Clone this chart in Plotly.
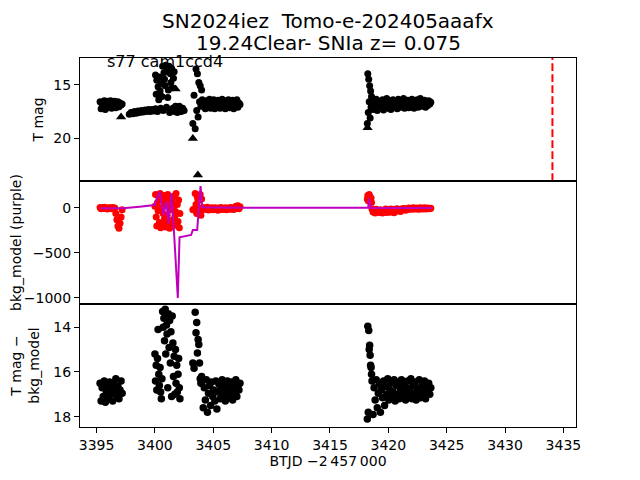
import plotly.graph_objects as go
from plotly.subplots import make_subplots

BLACK = "#000000"
RED = "#ff0000"
PURPLE = "#bf00bf"
FONT = "DejaVu Sans"

# segment A (shared by all three panels)
t_a = [3395.30, 3395.39, 3395.48, 3395.57, 3395.66, 3395.75, 3395.84, 3395.93,
       3396.02, 3396.11, 3396.20, 3396.29, 3396.38, 3396.47, 3396.56, 3396.65,
       3396.74, 3396.83, 3396.92, 3397.01, 3397.10, 3397.19]
mag_a = [16.6, 17.25, 16.85, 17.0, 16.5, 17.3, 16.75, 16.55, 17.1, 16.9, 16.5,
         17.2, 16.7, 17.0, 16.55, 17.15, 16.8, 16.6, 17.05, 16.7, 16.9, 16.8]
bkg_a = [5, -8, 2, -5, 8, -3, 0, -10, 4, -6, 3, -8, 6, -4, 0, -60, -130, -200,
         -225, -170, -100, -20]
sub_a = [16.5, 17.3, 16.7, 17.1, 16.4, 17.35, 16.9, 16.6, 17.2, 16.45, 17.0,
         16.75, 17.3, 16.5, 16.9, 16.3, 17.1, 16.65, 17.2, 16.8, 16.4, 16.95]

# segment B
t_b = [3400.00, 3400.05, 3400.11, 3400.16, 3400.22, 3400.27, 3400.33, 3400.38,
       3400.44, 3400.49, 3400.55, 3400.60, 3400.66, 3400.71, 3400.77, 3400.82,
       3400.88, 3400.93, 3400.99, 3401.04, 3401.10, 3401.15, 3401.21, 3401.26,
       3401.32, 3401.37, 3401.43, 3401.48, 3401.54, 3401.59, 3401.65, 3401.70,
       3401.76, 3401.81, 3401.87, 3401.92, 3401.98, 3402.03, 3402.09, 3402.14]
mag_b = [17.3, 14.1, 15.9, 14.6, 17.5, 15.2, 16.4, 14.3, 15.6, 17.2,
         14.9, 16.1, 13.3, 17.4, 13.9, 14.5, 15.1, 13.2, 17.1, 13.7,
         16.2, 15.5, 13.3, 17.6, 14.0, 14.8, 13.5, 15.3, 17.2, 14.4,
         13.8, 17.5, 17.0, 17.4, 17.1, 17.6, 17.2, 17.5, 17.0, 17.4]
bkg_b = [20, 150, -100, -200, 60, -30, 120, -160, 160, -220,
         0, 90, -180, -60, 140, -120, 30, -210, 100, -80,
         150, -160, 50, -225, -20, 110, -140, 70, -200, 10,
         130, -100, -40, 160, -190, 40, -150, 90, -220, -60]
sub_b = [15.2, 16.4, 15.7, 16.8, 15.4, 14.1, 16.1, 16.6, 15.8, 16.9,
         17.2, 16.3, 13.3, 14.0, 13.6, 14.6, 13.2, 15.2, 13.9, 14.3,
         16.7, 13.4, 14.9, 13.7, 15.6, 14.2, 17.1, 13.5, 14.7, 16.2,
         15.3, 17.0, 15.0, 16.5, 15.7, 16.9, 16.1, 15.4, 16.7, 17.2]

# segment C, rise
t_c1 = [3403.25, 3403.35, 3403.45, 3403.52, 3403.58, 3403.64,
        3403.70, 3403.76, 3403.82, 3403.88, 3403.94, 3404.00]
mag_c1 = [18.6, 16.0, 19.1, 13.55, 17.4, 14.0, 18.0, 14.8, 16.6, 15.1, 17.0, 15.5]
bkg_c1 = [-20, -10, 160, 40, -60, 120, 80, -40, 0, 150, -80, 100]
sub_c1 = [15.6, 15.83, 13.33, 14.24, 13.79, 15.15, 14.55, 14.77, 15.6, 16.3, 16.5, 16.2]

# segment C, plateau
t_c2 = [3404.05, 3404.14, 3404.23, 3404.32, 3404.41, 3404.50, 3404.59, 3404.68,
        3404.77, 3404.86, 3404.95, 3405.04, 3405.13, 3405.22, 3405.31, 3405.40,
        3405.49, 3405.58, 3405.67, 3405.76, 3405.85, 3405.94, 3406.03, 3406.12,
        3406.21, 3406.30, 3406.39, 3406.48, 3406.57, 3406.66, 3406.75, 3406.84,
        3406.93, 3407.02, 3407.11, 3407.20, 3407.29]
mag_c2 = [16.4, 17.0, 16.7, 17.25, 16.5, 17.1, 16.8, 16.35, 17.2, 16.6,
          16.95, 16.4, 17.25, 16.75, 17.05, 16.45, 16.9, 17.2, 16.6, 16.35,
          17.1, 16.8, 17.25, 16.5, 16.95, 16.4, 17.15, 16.7, 17.0, 16.45,
          17.25, 16.65, 16.9, 16.4, 17.1, 16.7, 16.85]
bkg_c2 = [-10, 5, -18, -2, -12, 8, -22, -5, -14, 2,
          -20, -8, 4, -16, -4, -24, 0, -10, 6, -18,
          -6, -12, 3, -20, -8, 0, -14, 5, -10, -3,
          -16, 2, 20, -6, 25, -8, 15]
sub_c2 = [16.4, 17.6, 16.7, 17.25, 16.35, 17.8, 16.95, 16.6, 17.5, 16.45,
          17.1, 16.8, 17.3, 16.4, 17.65, 16.9, 16.55, 17.2, 16.75, 16.35,
          17.05, 16.6, 17.3, 16.85, 16.4, 17.15, 16.7, 17.0, 16.45, 17.25,
          16.65, 16.9, 16.35, 17.1, 16.6, 16.8, 16.5]

# segment D, rise
t_d1 = [3418.20, 3418.24, 3418.28, 3418.32, 3418.36,
        3418.40, 3418.44, 3418.48, 3418.52, 3418.56]
mag_d1 = [18.6, 14.0, 17.6, 14.5, 16.6, 15.1, 18.1, 15.6, 17.1, 16.1]
bkg_d1 = [100, 140, 80, 130, 150, 90, 120, 70, 110, 60]
sub_d1 = [18.1, 13.95, 17.8, 14.15, 15.0, 14.8, 15.25, 15.7, 15.8, 16.1]

# segment D, plateau
t_d2 = [3418.60, 3418.69, 3418.78, 3418.87, 3418.96, 3419.05, 3419.14, 3419.23,
        3419.32, 3419.41, 3419.50, 3419.59, 3419.68, 3419.77, 3419.86, 3419.95,
        3420.04, 3420.13, 3420.22, 3420.31, 3420.40, 3420.49, 3420.58, 3420.67,
        3420.76, 3420.85, 3420.94, 3421.03, 3421.12, 3421.21, 3421.30, 3421.39,
        3421.48, 3421.57, 3421.66, 3421.75, 3421.84, 3421.93, 3422.02, 3422.11,
        3422.20, 3422.29, 3422.38, 3422.47, 3422.56, 3422.65, 3422.74, 3422.83,
        3422.92, 3423.01, 3423.10, 3423.19, 3423.28, 3423.37, 3423.46, 3423.55,
        3423.64]
mag_d2 = [16.4, 17.3, 16.7, 17.0, 16.35, 17.4, 16.8, 16.55, 17.15, 16.9,
          16.4, 17.35, 16.65, 17.05, 16.3, 17.2, 16.75, 16.5, 17.3, 16.9,
          16.4, 17.1, 16.65, 16.95, 17.25, 16.35, 16.8, 17.1, 16.55, 17.0,
          16.3, 17.2, 16.7, 16.9, 16.45, 17.15, 16.6, 17.0, 16.35, 16.8,
          17.2, 16.5, 16.95, 16.4, 17.1, 16.7, 16.3, 17.0, 16.6, 16.85,
          16.45, 17.1, 16.7, 16.95, 16.5, 16.8, 16.65]
bkg_d2 = [-10, -45, -25, -55, -15, -40, -30, -50, -20, -35,
          -55, -25, -45, -10, -50, -30, -20, -48, -12, -38,
          -25, -52, -15, -35, -8, -28, -18, -40, -10, -22,
          -5, -15, -25, -8, -18, 0, -12, -5, -15, 2,
          -8, -12, 0, -10, -4, -14, 3, -8, -2, -10,
          4, -6, -12, 0, -5, -8, -3]
sub_d2 = [16.4, 17.9, 16.7, 17.25, 16.35, 17.6, 16.95, 16.55, 17.8, 16.8,
          17.15, 16.4, 17.5, 16.65, 17.0, 16.3, 17.25, 16.8, 16.5, 17.1,
          16.9, 16.35, 17.3, 16.6, 17.0, 16.45, 17.2, 16.75, 16.35, 17.1,
          16.9, 16.55, 17.25, 16.7, 16.4, 17.05, 16.85, 16.3, 17.2, 16.6,
          16.95, 16.45, 17.25, 16.7, 17.0, 16.35, 17.15, 16.8, 16.55, 17.05,
          16.4, 17.2, 16.65, 16.9, 16.5, 17.0, 16.7]

# extra T mag points only in the top panel
t_top_extra = [3397.80, 3397.95, 3398.10, 3398.25, 3398.40, 3398.55, 3398.70,
               3398.85, 3399.00, 3399.15, 3399.30, 3399.45, 3399.60, 3399.75,
               3399.90, 3400.05, 3400.20, 3400.35, 3402.25, 3402.38, 3402.50]
mag_top_extra = [17.75, 17.6, 17.7, 17.5, 17.65, 17.45, 17.6, 17.4, 17.55, 17.35,
                 17.5, 17.3, 17.5, 17.3, 17.45, 17.25, 17.4, 17.3, 17.5, 17.2, 17.4]

# upper limits
t_limit = [3397.10, 3401.77, 3403.25, 3403.68, 3418.22]
mag_limit = [18.0, 15.4, 20.0, 23.4, 19.0]

# background model curve
t_model = [3395.32, 3397.25, 3398.68, 3399.97, 3400.40, 3400.74, 3400.97, 3401.17,
           3401.40, 3401.65, 3401.96, 3402.11, 3403.10, 3403.25, 3403.62, 3403.77,
           3403.91, 3404.05, 3407.35, 3418.28, 3418.33, 3418.50, 3423.72]
bkg_model = [-3, -3, 15, 33, 181, -78, 70, -170, 163, -300, -1000, -326, -300,
             -244, -244, 33, 244, 8, 3, 3, 107, 0, 0]

t_marker = 3434.06

t_obs = t_a + t_b + t_c1 + t_c2 + t_d1 + t_d2
tmag = mag_a + mag_b + mag_c1 + mag_c2 + mag_d1 + mag_d2
bkg = bkg_a + bkg_b + bkg_c1 + bkg_c2 + bkg_d1 + bkg_d2
tmag_sub = sub_a + sub_b + sub_c1 + sub_c2 + sub_d1 + sub_d2

top_range = [23.95, 12.53]
mid_range = [-1067, 300]
bot_range = [18.46, 12.96]

fig = make_subplots(rows=3, cols=1, shared_xaxes=True, vertical_spacing=0)

fig.add_trace(go.Scatter(x=t_top_extra, y=mag_top_extra, mode="markers",
                         marker=dict(color=BLACK, size=7)), row=1, col=1)
fig.add_trace(go.Scatter(x=t_obs, y=tmag, mode="markers",
                         marker=dict(color=BLACK, size=7)), row=1, col=1)
fig.add_trace(go.Scatter(x=t_limit, y=mag_limit, mode="markers",
                         marker=dict(color=BLACK, size=9, symbol="triangle-up")),
              row=1, col=1)
fig.add_trace(go.Scatter(x=[t_marker, t_marker], y=top_range, mode="lines",
                         line=dict(color=RED, width=2, dash="7.7px,3.3px")),
              row=1, col=1)

fig.add_trace(go.Scatter(x=t_obs, y=bkg, mode="markers",
                         marker=dict(color=RED, size=7)), row=2, col=1)
fig.add_trace(go.Scatter(x=t_model, y=bkg_model, mode="lines",
                         line=dict(color=PURPLE, width=2)), row=2, col=1)

fig.add_trace(go.Scatter(x=t_obs, y=tmag_sub, mode="markers",
                         marker=dict(color=BLACK, size=7.5)), row=3, col=1)

axis_style = dict(showline=True, linecolor=BLACK, linewidth=1, mirror=True,
                  showgrid=False, zeroline=False, ticks="outside", ticklen=5,
                  tickcolor=BLACK, automargin=False,
                  tickfont=dict(size=14, color=BLACK))
title_font = dict(size=14, color=BLACK)

for r in (1, 2, 3):
    fig.update_xaxes(axis_style, range=[3393.58, 3436.08], row=r, col=1)
fig.update_xaxes(showticklabels=False, ticks="", row=1, col=1)
fig.update_xaxes(showticklabels=False, ticks="", row=2, col=1)
fig.update_xaxes(dtick=5, tick0=3395, title=dict(
    text="BTJD \u22122\u2009457\u2009000", font=title_font, standoff=4),
    row=3, col=1)

fig.update_yaxes(axis_style, range=top_range, tickvals=[15, 20],
                 title=dict(text="T mag", font=title_font, standoff=6), row=1, col=1)
fig.update_yaxes(axis_style, range=mid_range, tickvals=[0, -500, -1000],
                 title=dict(text="bkg_model (purple)", font=title_font),
                 row=2, col=1)
fig.update_yaxes(axis_style, range=bot_range, tickvals=[14, 16, 18],
                 title=dict(text="T mag \u2212<br>bkg_model", font=title_font),
                 row=3, col=1)

fig.add_annotation(x=3395.7, y=top_range[1], xref="x", yref="y", text="s77 cam1ccd4",
                   showarrow=False, xanchor="left", yanchor="top", yshift=8,
                   font=dict(size=16, color=BLACK))

fig.add_annotation(x=0.5, y=1.1, xref="paper", yref="paper",
                   text="SN2024iez\u00a0 Tomo-e-202405aaafx", showarrow=False,
                   xanchor="center", yanchor="middle", font=dict(size=20, color=BLACK))
fig.add_annotation(x=0.5, y=1.04, xref="paper", yref="paper",
                   text="19.24Clear- SNIa z= 0.075", showarrow=False,
                   xanchor="center", yanchor="middle", font=dict(size=20, color=BLACK))

# the page body adds 8 px on the left and top, so the margins are trimmed by that much
fig.update_layout(
    width=640,
    height=480,
    margin=dict(l=72, r=72, t=50, b=61),
    paper_bgcolor="white",
    plot_bgcolor="white",
    showlegend=False,
    font=dict(family=FONT, color=BLACK),
)

fig.write_html("out.html")
